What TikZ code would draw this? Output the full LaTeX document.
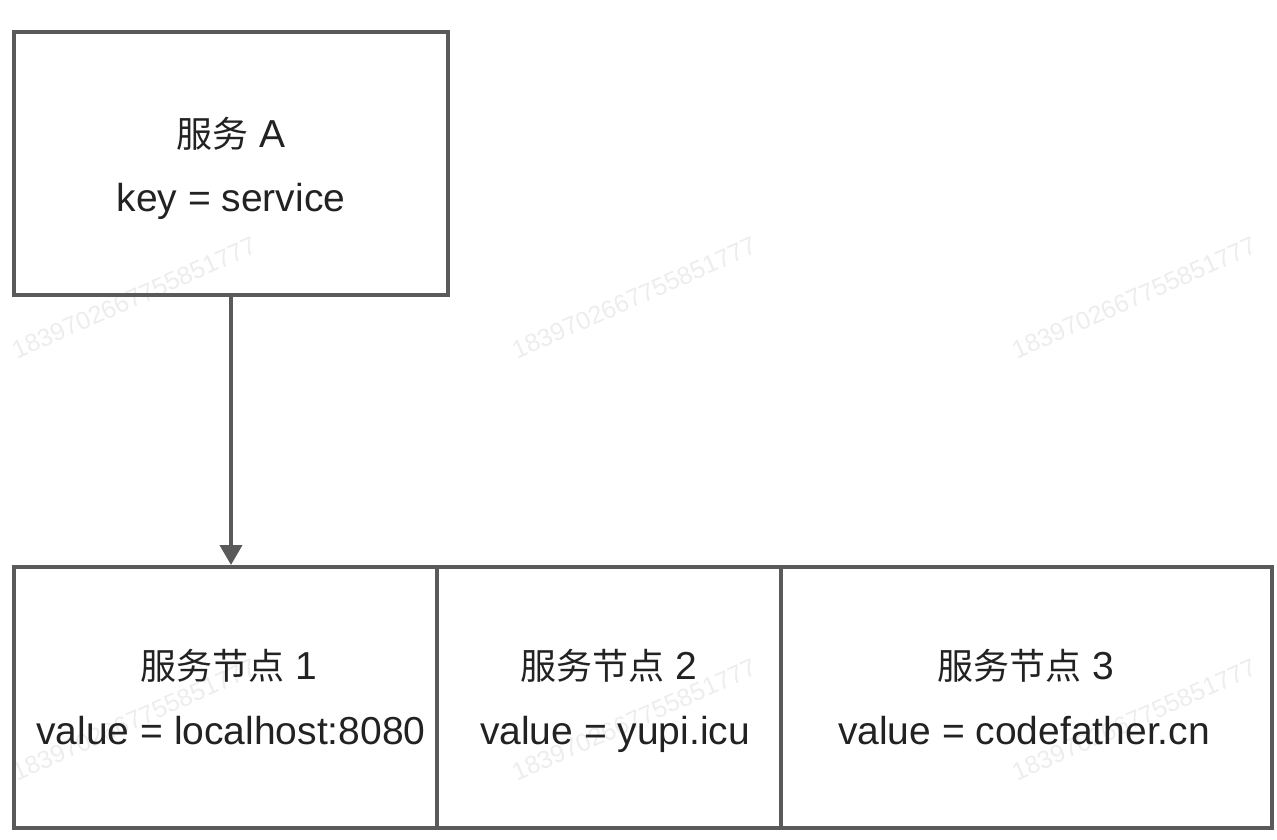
\documentclass[tikz,border=0pt]{standalone}
\usepackage{fontspec}
\setmainfont{Liberation Sans}
\newfontfamily\cjk{Noto Sans CJK SC}
\newcommand\zhtxt[1]{{\fontsize{36}{36}\cjk #1}}
\usetikzlibrary{arrows.meta}
\definecolor{edge}{HTML}{5A5A5A}
\definecolor{txt}{HTML}{222222}
\definecolor{wm}{HTML}{EDEDED}
\tikzset{
  box/.style={draw=edge, line width=4pt, rectangle, inner sep=0pt},
  label text/.style={text=txt, inner sep=0pt, anchor=base, font=\fontsize{39}{39}\selectfont},
  link/.style={draw=edge, line width=4pt, -{Triangle[width=22pt,length=20pt]}},
  mark text/.style={text=wm, rotate=24, font=\fontsize{25}{25}\selectfont, inner sep=0pt}
}
\begin{document}
\begin{tikzpicture}[x=1pt,y=-1pt]
\useasboundingbox (0,0) rectangle (1277,839);
% watermarks
\node[mark text] (w1) at (134,298) {1839702667755851777};
\node[mark text] (w2) at (634,298) {1839702667755851777};
\node[mark text] (w3) at (1134,298) {1839702667755851777};
\node[mark text] (w4) at (134,720) {1839702667755851777};
\node[mark text] (w5) at (634,720) {1839702667755851777};
\node[mark text] (w6) at (1134,720) {1839702667755851777};
% boxes
\node[box, minimum width=434pt, minimum height=263pt] (top) at (231,163.5) {};
\node[box, minimum width=423pt, minimum height=261pt] (n1) at (225.5,697.5) {};
\node[box, minimum width=344pt, minimum height=261pt] (n2) at (609,697.5) {};
\node[box, minimum width=491pt, minimum height=261pt] (n3) at (1026.5,697.5) {};
% texts
\node[label text] (t0a) at (231,147) {\zhtxt{服务} A};
\node[label text] (t0b) at (231,211) {key = service};
\node[label text] (t1a) at (229,679) {\zhtxt{服务节点} 1};
\node[label text] (t1b) at (231,744) {value = localhost:8080};
\node[label text] (t2a) at (609,679) {\zhtxt{服务节点} 2};
\node[label text] (t2b) at (615,744) {value = yupi.icu};
\node[label text] (t3a) at (1026,679) {\zhtxt{服务节点} 3};
\node[label text] (t3b) at (1024,744) {value = codefather.cn};
% connector
\draw[link] (top.south) -- (top.south |- n1.north);
\end{tikzpicture}
\end{document}
